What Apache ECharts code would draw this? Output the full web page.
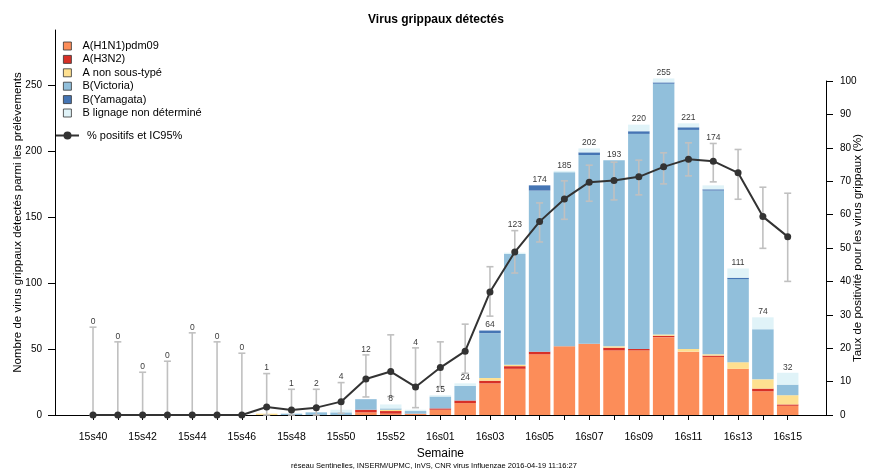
<!DOCTYPE html>
<html>
<head>
<meta charset="utf-8">
<script src="https://cdn.jsdelivr.net/npm/echarts@6/dist/echarts.min.js"></script>
<style>
html, body { margin: 0; padding: 0; background: #fff; }
#chart { width: 872px; height: 469px; }
</style>
</head>
<body>
<div id="chart"></div>
<script>
// semaines
const weeks = ['15s40', '15s41', '15s42', '15s43', '15s44', '15s45', '15s46', '15s47', '15s48', '15s49',
  '15s50', '15s51', '15s52', '15s53', '16s01', '16s02', '16s03', '16s04', '16s05', '16s06', '16s07',
  '16s08', '16s09', '16s10', '16s11', '16s12', '16s13', '16s14', '16s15']

// nombre de virus par type
const h1n1 = [0, 0, 0, 0, 0, 0, 0, 0, 0, 0, 0, 2, 1, 1, 4, 9, 24, 35, 46, 52, 54, 49, 49, 59, 48, 44, 35, 18, 7]
const h3n2 = [0, 0, 0, 0, 0, 0, 0, 0, 0, 0, 0, 2, 2, 0, 1, 2, 2, 2, 2, 0, 0, 2, 1, 1, 0, 1, 0, 2, 1]
const aNonSousType = [0, 0, 0, 0, 0, 0, 0, 1, 0, 0, 0, 0, 1, 0, 0, 0, 2, 1, 0, 0, 0, 1, 0, 1, 2, 1, 5, 7, 7]
const bVictoria = [0, 0, 0, 0, 0, 0, 0, 0, 1, 2, 2, 8, 1, 2, 9, 11, 34, 84, 122, 132, 143, 141, 163, 190, 166, 124, 63, 38, 8]
const bYamagata = [0, 0, 0, 0, 0, 0, 0, 0, 0, 0, 0, 0, 0, 0, 0, 0, 2, 0, 4, 0, 2, 0, 2, 1, 2, 1, 1, 0, 0]
const bNonDet = [0, 0, 0, 0, 0, 0, 0, 0, 0, 0, 2, 0, 3, 1, 1, 2, 0, 1, 0, 1, 3, 0, 5, 3, 3, 3, 7, 9, 9]

// % positifs et IC95%
const pctPos = [0, 0, 0, 0, 0, 0, 0, 2.4, 1.5, 2.2, 4.0, 10.8, 13.0, 8.4, 14.2, 19.1, 36.8, 48.8, 57.9, 64.7,
  69.7, 70.2, 71.3, 74.3, 76.6, 76.0, 72.5, 59.4, 53.4]
const ciLow = [0, 0, 0, 0, 0, 0, 0, 0, 0, 0, 0.5, 5.4, 5.5, 2.2, 8.5, 12.5, 29.6, 42.5, 51.8, 58.6,
  64.0, 64.4, 65.9, 69.2, 71.6, 69.8, 64.6, 49.9, 40.0]
const ciHigh = [26.3, 21.9, 12.8, 16.1, 24.6, 21.9, 18.5, 12.4, 7.7, 7.7, 9.7, 18.0, 24.0, 20.1, 21.9, 27.2,
  44.4, 55.2, 63.5, 70.1, 74.8, 75.7, 76.3, 78.5, 81.5, 81.3, 79.5, 68.2, 66.4]

const leftTicks = [0, 50, 100, 150, 200, 250]
const rightTicks = [0, 10, 20, 30, 40, 50, 60, 70, 80, 90, 100]

const series = [
  { name: 'A(H1N1)pdm09', data: h1n1, color: '#FC8D59' },
  { name: 'A(H3N2)', data: h3n2, color: '#D73027' },
  { name: 'A non sous-typé', data: aNonSousType, color: '#FEE090' },
  { name: 'B(Victoria)', data: bVictoria, color: '#91BFDB' },
  { name: 'B(Yamagata)', data: bYamagata, color: '#4575B4' },
  { name: 'B lignage non déterminé', data: bNonDet, color: '#E0F3F8' }
]

const totals = weeks.map((w, i) => series.reduce((s, sr) => s + sr.data[i], 0))

// échelles des deux grilles
const gridTop = 30
const gridBottom = 54
const rightTop = 81
const chartH = 469
const leftMax = 291.7
const leftPx = (chartH - gridBottom - gridTop) / leftMax
const rightPx = (chartH - gridBottom - rightTop) / 100
const pctToLeft = rightPx / leftPx

// étiquette au-dessus de la barre, ou au-dessus de l'IC s'il la chevauche
const labelData = weeks.map((w, i) => {
  const t = totals[i]
  let y = t
  if (ciLow[i] * pctToLeft < t + 4) y = Math.max(t, ciHigh[i] * pctToLeft)
  return [i, y, t]
})

const axisLeft = 55
const axisRight = 826
const plotLeft = 80.6
const plotRight = 71.9

const myChart = echarts.init(document.getElementById('chart'))
const option = {
  animation: false,
  textStyle: { fontFamily: 'Liberation Sans, Arial, sans-serif' },
  title: [{
    text: 'Virus grippaux détectés',
    left: 'center',
    top: 9,
    textStyle: { fontSize: 12, fontWeight: 'bold', color: '#000' }
  }, {
    text: 'réseau Sentinelles, INSERM/UPMC, InVS, CNR virus Influenzae 2016-04-19 11:16:27',
    left: 286,
    top: 457,
    textStyle: { fontSize: 7.5, fontWeight: 'normal', color: '#000' }
  }],
  legend: [{
    data: series.map(s => s.name),
    orient: 'vertical',
    left: 58,
    top: 34.5,
    icon: 'rect',
    itemWidth: 8,
    itemHeight: 8,
    itemGap: 0.4,
    selectedMode: false,
    itemStyle: { borderColor: '#333', borderWidth: 0.8 },
    textStyle: { fontSize: 11, color: '#000', lineHeight: 13, padding: [0, 0, 0, 6] }
  }, {
    data: ['% positifs et IC95%'],
    left: 50,
    top: 125,
    itemWidth: 23,
    itemHeight: 10,
    selectedMode: false,
    textStyle: { fontSize: 11, color: '#000', padding: [0, 0, 0, 3] }
  }],
  grid: [
    { left: axisLeft, right: 872 - axisRight, top: gridTop, bottom: gridBottom, outerBoundsMode: 'none' },
    { left: plotLeft, right: plotRight, top: gridTop, bottom: gridBottom, outerBoundsMode: 'none' },
    { left: plotLeft, right: plotRight, top: rightTop, bottom: gridBottom, outerBoundsMode: 'none' }
  ],
  xAxis: [{
    type: 'value',
    gridIndex: 0,
    min: 0,
    max: 1,
    axisLine: { show: true, onZero: false, lineStyle: { color: '#000', width: 1 } },
    axisTick: { show: false },
    axisLabel: { show: false },
    splitLine: { show: false }
  }, {
    type: 'category',
    gridIndex: 1,
    data: weeks,
    name: 'Semaine',
    nameLocation: 'middle',
    nameGap: 31,
    nameTextStyle: { fontSize: 12, color: '#000' },
    axisLine: { show: false },
    axisTick: { show: true, alignWithLabel: true, interval: 0, length: 5, lineStyle: { color: '#000' } },
    axisLabel: { interval: 1, margin: 17, fontSize: 10.5, color: '#000' },
    splitLine: { show: false }
  }, {
    type: 'category',
    gridIndex: 2,
    data: weeks,
    show: false
  }],
  yAxis: [{
    type: 'value',
    gridIndex: 0,
    min: 0,
    max: 1,
    show: false
  }, {
    type: 'value',
    gridIndex: 1,
    min: 0,
    max: leftMax,
    offset: plotLeft - axisLeft,
    name: 'Nombre de virus grippaux détectés parmi les prélèvements',
    nameLocation: 'middle',
    nameGap: 31,
    nameMoveOverlap: false,
    nameTextStyle: { fontSize: 11.5, color: '#000' },
    axisLine: { show: true, onZero: false, lineStyle: { color: '#000' } },
    axisTick: { show: true, length: 7, lineStyle: { color: '#000' }, customValues: leftTicks },
    axisLabel: { margin: 13, fontSize: 10, color: '#000', customValues: leftTicks },
    splitLine: { show: false }
  }, {
    type: 'value',
    gridIndex: 2,
    position: 'right',
    min: 0,
    max: 100,
    offset: axisRight - (872 - plotRight),
    name: 'Taux de positivité pour les virus grippaux (%)',
    nameLocation: 'middle',
    nameGap: 26,
    nameRotate: 90,
    nameMoveOverlap: false,
    nameTextStyle: { fontSize: 11.5, color: '#000' },
    axisLine: { show: true, onZero: false, lineStyle: { color: '#000' } },
    axisTick: { show: true, length: 7, lineStyle: { color: '#000' }, customValues: rightTicks },
    axisLabel: { margin: 14, fontSize: 10, color: '#000', customValues: rightTicks },
    splitLine: { show: false }
  }],
  series: [
    ...series.map(s => ({
      name: s.name,
      type: 'bar',
      stack: 'virus',
      xAxisIndex: 1,
      yAxisIndex: 1,
      barWidth: 21.5,
      itemStyle: { color: s.color },
      data: s.data
    })),
    {
      name: 'étiquettes',
      type: 'scatter',
      xAxisIndex: 1,
      yAxisIndex: 1,
      symbolSize: 0,
      silent: true,
      z: 5,
      label: {
        show: true,
        position: 'top',
        distance: 1,
        fontSize: 8.5,
        color: '#000',
        formatter: p => p.value[2]
      },
      data: labelData
    },
    {
      name: 'IC95%',
      type: 'custom',
      xAxisIndex: 2,
      yAxisIndex: 2,
      z: 3,
      silent: true,
      renderItem: function (params, api) {
        const x = api.value(0)
        const lo = api.coord([x, api.value(1)])
        const hi = api.coord([x, api.value(2)])
        const cap = 3.5
        const style = { stroke: '#c0c0c0', lineWidth: 1.6 }
        return {
          type: 'group',
          children: [
            { type: 'line', shape: { x1: hi[0], y1: hi[1], x2: lo[0], y2: lo[1] }, style },
            { type: 'line', shape: { x1: hi[0] - cap, y1: hi[1], x2: hi[0] + cap, y2: hi[1] }, style },
            { type: 'line', shape: { x1: lo[0] - cap, y1: lo[1], x2: lo[0] + cap, y2: lo[1] }, style }
          ]
        }
      },
      data: weeks.map((w, i) => [i, ciLow[i], ciHigh[i]])
    },
    {
      name: '% positifs et IC95%',
      type: 'line',
      xAxisIndex: 2,
      yAxisIndex: 2,
      z: 4,
      symbol: 'circle',
      symbolSize: 7,
      itemStyle: { color: '#333' },
      lineStyle: { color: '#333', width: 2 },
      data: pctPos
    }
  ]
}
myChart.setOption(option)
</script>
</body>
</html>
